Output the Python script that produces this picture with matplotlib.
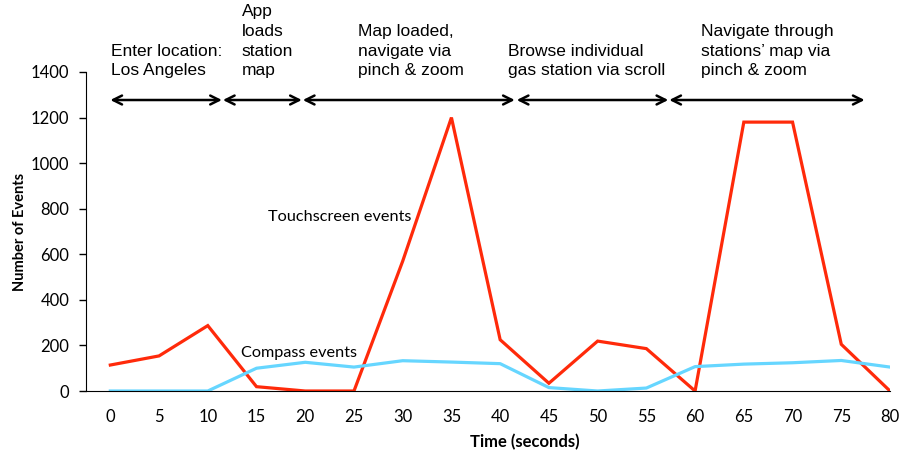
import matplotlib
matplotlib.use('Agg')
import matplotlib.pyplot as plt

# ── Data ──────────────────────────────────────────────────────────────────────
time_s      = [0, 5, 10, 15, 20, 25, 30, 35, 40, 45, 50, 55, 60, 65, 70, 75, 80]
touchscreen = [114, 154, 287, 19, 0, 0, 570, 1200, 225, 34, 219, 186, 0, 1180, 1180, 205, 0]
compass     = [0, 0, 0, 100, 126, 105, 133, 127, 120, 15, 0, 13, 107, 118, 124, 134, 105]

phase_labels = ["Enter location:\nLos Angeles",
                "App\nloads\nstation\nmap",
                "Map loaded,\nnavigate via\npinch & zoom",
                "Browse individual\ngas station via scroll",
                "Navigate through\nstations\u2019 map via\npinch & zoom"]
phase_text_x = [0.1, 13.5, 25.4, 40.8, 60.6]
phase_spans  = [(0, 11.45), (11.55, 19.65), (19.75, 41.5), (41.7, 57.25), (57.35, 77.4)]
arrow_y = 1277
text_y  = 1385

# ── Figure ────────────────────────────────────────────────────────────────────
fig = plt.figure(figsize=(9.02, 4.57), dpi=100)
ax = fig.add_axes([0.0953, 0.1444, 0.8914, 0.6981])

ax.plot(time_s, touchscreen, color='#ff2a0a', lw=2.3, solid_joinstyle='miter')
ax.plot(time_s, compass, color='#66d6ff', lw=2.3)

ax.set_xlim(-2.5, 80)
ax.set_ylim(0, 1400)
ax.set_xticks(time_s)
ax.set_yticks(range(0, 1401, 200))
ax.spines['top'].set_visible(False)
ax.spines['right'].set_visible(False)
ax.tick_params(axis='x', length=0, pad=13)
ax.tick_params(axis='y', length=5, width=1, direction='out', pad=7)
for lab in ax.get_xticklabels() + ax.get_yticklabels():
    lab.set_family('Lato')
    lab.set_fontsize(12)

ax.set_xlabel("Time (seconds)", family='Lato', fontweight='bold', fontsize=12)
ax.xaxis.set_label_coords(0.546, -0.135)
ax.set_ylabel("Number of Events", family='Lato', fontweight='bold', fontsize=10.5)
ax.yaxis.set_label_coords(-0.073, 0.5)

# series labels
ax.text(16.2, 763, "Touchscreen events", family='Lato', fontsize=11.7, va='center', ha='left')
ax.text(13.4, 167, "Compass events", family='Lato', fontsize=11.7, va='center', ha='left')

# phase annotations
for lab, tx, (x0, x1) in zip(phase_labels, phase_text_x, phase_spans):
    ax.text(tx, text_y, lab, family='Liberation Sans', fontsize=12.5, ha='left',
            va='baseline', linespacing=1.4, clip_on=False)
    ax.annotate('', xy=(x1, arrow_y), xytext=(x0, arrow_y),
                arrowprops=dict(arrowstyle='<->', lw=1.8, color='black',
                                mutation_scale=16, shrinkA=0, shrinkB=0),
                annotation_clip=False)

plt.savefig("out.png", dpi=100)
plt.close()
